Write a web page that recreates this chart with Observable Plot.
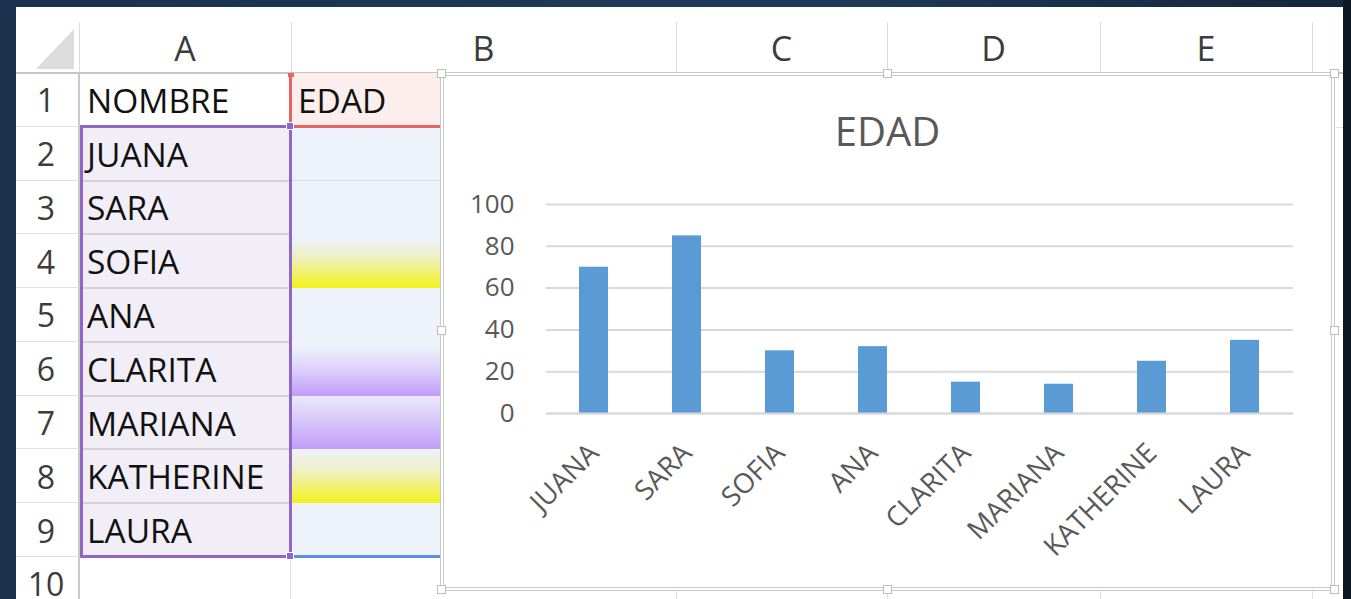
<!DOCTYPE html>
<html>
<head>
<meta charset="utf-8">
<script src="https://cdn.jsdelivr.net/npm/d3@7"></script>
<script src="https://cdn.jsdelivr.net/npm/@observablehq/plot@0.6"></script>
<style>
  html, body { margin: 0; padding: 0; }
  body { width: 1351px; height: 599px; overflow: hidden; background: #1d3654; font-family: "Open Sans", sans-serif; }
  #stage { position: relative; width: 1351px; height: 599px; overflow: hidden;
    background: linear-gradient(90deg, #1a324e 0%, #1f3a59 60%, #14263a 100%); }
  .abs { position: absolute; box-sizing: border-box; }
</style>
</head>
<body>
<div id="stage"></div>
<script>
// ---- data ----
const columnLetters = ["A", "B", "C", "D", "E"];
const headerNombre = "NOMBRE";
const headerEdad = "EDAD";
const names = ["JUANA", "SARA", "SOFIA", "ANA", "CLARITA", "MARIANA", "KATHERINE", "LAURA"];
const ages = [70, 85, 30, 32, 15, 14, 25, 35];
const yTicks = [0, 20, 40, 60, 80, 100];
const chartTitle = "EDAD";

// ---- spreadsheet frame (HTML) ----
const stage = document.getElementById("stage");
function box(x, y, w, h, style = {}) {
  const d = document.createElement("div");
  d.className = "abs";
  Object.assign(d.style, { left: x + "px", top: y + "px", width: w + "px", height: h + "px" }, style);
  stage.appendChild(d);
  return d;
}
function text(str, x, y, w, h, style = {}) {
  const d = box(x, y, w, h, Object.assign({ display: "flex", alignItems: "center", whiteSpace: "nowrap" }, style));
  d.textContent = str;
  return d;
}

// right dark strip
box(1343, 0, 8, 599, { background: "#0c1722" });
// white sheet
box(16, 7, 1327, 592, { background: "#ffffff" });

const colEdges = [79, 291, 676, 887, 1100, 1312, 1343];
const rowH = 53.78;
const rowTop = i => 73 + rowH * i;   // i = 0 -> row 1

// header separators
for (let k = 1; k < colEdges.length - 1; k++) box(colEdges[k], 22, 1, 51, { background: "#dcdcdc" });
box(79, 22, 1, 51, { background: "#dcdcdc" });
box(16, 72, 1327, 2, { background: "#c6c6c6" });
box(78, 73, 2, 526, { background: "#c9c9c9" });

// corner triangle
const tri = box(36, 29, 39, 40, {});
tri.innerHTML = '<svg width="39" height="40"><polygon points="38,0 38,40 0,40" fill="#dcdcdc"/></svg>';

// column letters
columnLetters.forEach((c, k) => {
  text(c, colEdges[k], 22, colEdges[k + 1] - colEdges[k], 51, { justifyContent: "center", fontSize: "34px", color: "#3c3c3c" });
});

// row numbers and horizontal grid lines
for (let i = 0; i < 10; i++) {
  const y = rowTop(i);
  text(String(i + 1), 16, y, 60, rowH, { justifyContent: "center", fontSize: "32px", color: "#3c3c3c" });
  box(16, Math.round(y + rowH) - 1, 63, 1, { background: "#e1e1e1" });
}

// Column A cells
text(headerNombre, 80, rowTop(0), 211, rowH, { paddingLeft: "7px", fontSize: "33.5px", color: "#111" });
box(80, rowTop(1), 211, rowH * 8, { background: "#f1eef8" });
for (let i = 1; i < 10; i++) box(80, Math.round(rowTop(i + 1)) - 1, 211, 2, { background: i < 9 ? "#d3d0da" : "#e1e1e1" });
names.forEach((n, i) => {
  text(n, 80, rowTop(i + 1), 211, rowH, { paddingLeft: "7px", fontSize: "33.5px", color: "#111" });
});

// Column B cells (row index i: 1 -> row 2, 3 -> row 4, ...)
box(291, rowTop(0), 152, rowH, { background: "#fdeeee" });
text(headerEdad, 291, rowTop(0), 152, rowH, { paddingLeft: "7px", fontSize: "33.5px", color: "#111" });
const grad = {
  3: "linear-gradient(180deg, #eef2fb 8%, #eef0c8 40%, #f2f214 100%)",
  5: "linear-gradient(180deg, #eef2fb 8%, #e0d6fa 45%, #c29bf9 100%)",
  6: "linear-gradient(180deg, #ebe8fb 0%, #d8c8fa 45%, #c29bf9 100%)",
  7: "linear-gradient(180deg, #eef2fb 0%, #eff0c4 40%, #f2f214 100%)"
};
for (let i = 1; i <= 8; i++) {
  box(292, rowTop(i), 151, rowH + 0.5, { background: grad[i] || "#eef2fb" });
}
for (let i = 1; i < 8; i++) {
  if (!grad[i] && !grad[i + 1]) box(292, Math.round(rowTop(i + 1)) - 1, 151, 1, { background: "#d6d9e2" });
}
box(291, rowTop(9), 152, 60, { background: "#ffffff" });
box(290, rowTop(9), 1, 60, { background: "#e1e1e1" });

// selection borders
box(289, 74, 3, 53, { background: "#e86464" });
box(288, 73, 6, 4, { background: "#e86464" });
box(292, 125, 151, 3, { background: "#e86464" });
box(80, 125, 211, 3, { background: "#9266c9" });
box(80, 125, 3, 433, { background: "#9266c9" });
box(289, 125, 3, 433, { background: "#9266c9" });
box(80, 555, 211, 3, { background: "#9266c9" });
box(286, 122, 8, 8, { background: "#9266c9", border: "1px solid #ffffff" });
box(286, 552, 8, 8, { background: "#9266c9", border: "1px solid #ffffff" });
box(294, 555, 149, 3, { background: "#5b8fe8" });

// row 10 column separators below chart
[676, 887, 1100, 1312].forEach(x => box(x, 590, 1, 9, { background: "#e1e1e1" }));
box(1336, rowTop(1), 7, 1, { background: "#e1e1e1" });

// ---- chart object ----
box(440, 72, 895, 519, { background: "#ffffff", border: "4px double #c9c9c9" });
const handles = [[887, 73], [441, 330], [1334, 330], [887, 589], [441, 73], [1334, 73], [441, 589], [1334, 589]];
handles.forEach(([x, y]) => box(x - 4, y - 4, 9, 9, { background: "#ffffff", border: "1px solid #bdbdbd" }));

const titleDiv = text(chartTitle, 442, 111, 891, 40, { justifyContent: "center", fontSize: "40px", lineHeight: "40px", color: "#595959" });

const data = names.map((n, i) => ({ name: n, edad: ages[i] }));
const chart = Plot.plot({
  width: 891,
  height: 516,
  marginLeft: 104,
  marginRight: 40,
  marginTop: 131,
  marginBottom: 176,
  style: { fontFamily: "Open Sans", fontSize: "26px", color: "#595959", background: "transparent", overflow: "visible" },
  x: { domain: names, paddingInner: 0.686, paddingOuter: 0.343, label: null },
  y: { domain: [0, 100], ticks: yTicks, label: null },
  marks: [
    Plot.gridY(yTicks, { stroke: "#d9d9d9", strokeOpacity: 1, strokeWidth: 2 }),
    Plot.barY(data, { x: "name", y: "edad", fill: "#5b9bd5" }),
    Plot.ruleY([0], { stroke: "#d9d9d9", strokeWidth: 2 }),
    Plot.axisY(yTicks, { tickSize: 0, tickPadding: 32, fontSize: 26, fill: "#595959" }),
    Plot.axisX({ tickRotate: -45, tickSize: 0, tickPadding: 35, dx: 0, fontSize: 27.5, fill: "#595959" })
  ]
});
const holder = box(442, 73, 891, 516, {});
holder.appendChild(chart);
stage.appendChild(titleDiv);
</script>
</body>
</html>
